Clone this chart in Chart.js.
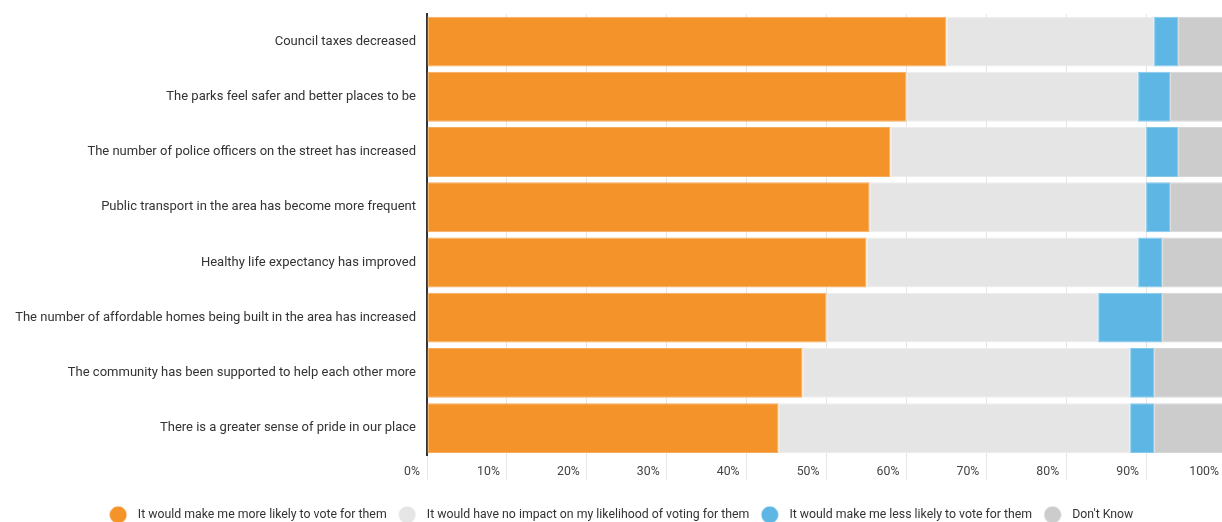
<!DOCTYPE html>
<html>
<head>
<meta charset="utf-8">
<script src="https://cdn.jsdelivr.net/npm/chart.js@4"></script>
<style>
  html, body { margin: 0; padding: 0; overflow: hidden; background: #fff; }
  #wrap { position: absolute; left: 0; top: 0; width: 1226px; height: 531px; }
</style>
</head>
<body>
<div id="wrap"><canvas id="c"></canvas></div>
<script>
// Statements shown on the category axis, top to bottom
const categories = [
  'Council taxes decreased',
  'The parks feel safer and better places to be',
  'The number of police officers on the street has increased',
  'Public transport in the area has become more frequent',
  'Healthy life expectancy has improved',
  'The number of affordable homes being built in the area has increased',
  'The community has been supported to help each other more',
  'There is a greater sense of pride in our place'
];

// Response shares (%) per statement
const moreLikely = [65, 60, 58, 55.4, 55, 50, 47, 44];
const noImpact   = [26, 29, 32, 34.6, 34, 34, 41, 44];
const lessLikely = [3, 4, 4, 3, 3, 8, 3, 3];
const dontKnow   = [6, 7, 6, 7, 8, 8, 9, 9];

const seriesNames = [
  'It would make me more likely to vote for them',
  'It would have no impact on my likelihood of voting for them',
  'It would make me less likely to vote for them',
  "Don't Know"
];
const seriesColors = ['#F39329', '#E5E5E5', '#5EB6E4', '#CCCCCC'];
const seriesEdges  = ['#F6AC5C', '#EDEDED', '#86C8EB', '#D6D6D6'];

// Axis tick values
const xTickValues = [0, 10, 20, 30, 40, 50, 60, 70, 80, 90, 100];

// Round legend markers
function dot(color) {
  const c = document.createElement('canvas');
  c.width = 18; c.height = 18;
  const g = c.getContext('2d');
  g.fillStyle = color;
  g.beginPath();
  g.arc(9, 9, 8.5, 0, Math.PI * 2);
  g.fill();
  return c;
}
const legendDots = seriesColors.map(dot);

const values = [moreLikely, noImpact, lessLikely, dontKnow];

new Chart(document.getElementById('c'), {
  type: 'bar',
  data: {
    labels: categories,
    datasets: values.map((v, i) => ({
      label: seriesNames[i],
      data: v,
      backgroundColor: seriesColors[i],
      borderColor: seriesEdges[i],
      borderWidth: 1,
      borderSkipped: false,
      barPercentage: 1,
      categoryPercentage: 0.904
    }))
  },
  options: {
    indexAxis: 'y',
    responsive: true,
    maintainAspectRatio: false,
    animation: false,
    layout: { padding: { top: 14, left: 12, right: 0, bottom: 0 } },
    scales: {
      x: {
        stacked: true,
        min: 0,
        max: 100,
        afterBuildTicks(scale) { scale.ticks = xTickValues.map(v => ({ value: v })); },
        ticks: {
          callback: v => v + '%',
          align: 'end',
          labelOffset: -7,
          padding: -15,
          autoSkip: false,
          maxRotation: 0,
          color: '#444',
          font: { family: 'Roboto', size: 12.3 }
        },
        grid: { color: '#E6E6E6', lineWidth: 1, tickLength: 24 },
        border: { display: false },
        afterFit(scale) { scale.height = 46; }
      },
      y: {
        stacked: true,
        z: 1,
        grid: { display: false },
        border: { display: true, color: '#333', width: 2 },
        ticks: {
          padding: 3,
          color: '#333',
          font: { family: 'Roboto', size: 13 }
        },
        afterFit(scale) { scale.width = 415; }
      }
    },
    plugins: {
      tooltip: { enabled: false },
      legend: {
        position: 'bottom',
        labels: {
          usePointStyle: true,
          pointStyleWidth: 27,
          boxHeight: 12,
          padding: 7,
          color: '#333',
          font: { family: 'Roboto', size: 12.3 },
          generateLabels(chart) {
            const items = Chart.defaults.plugins.legend.labels.generateLabels(chart);
            items.forEach((it, i) => { it.pointStyle = legendDots[i]; });
            return items;
          }
        }
      }
    }
  }
});
</script>
</body>
</html>
